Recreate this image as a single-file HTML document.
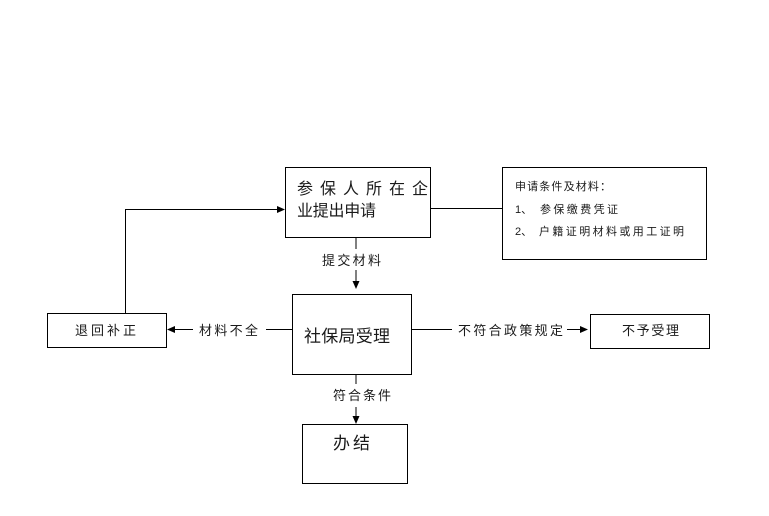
<!DOCTYPE html>
<html>
<head>
<meta charset="utf-8">
<style>
  html, body { margin: 0; padding: 0; background: #fff; }
  body { width: 769px; height: 516px; overflow: hidden; }
  svg { display: block; }
  text { font-family: "Liberation Sans", "Noto Sans CJK SC", "WenQuanYi Zen Hei", sans-serif; fill: #1a1a1a; }
</style>
</head>
<body>
<svg width="769" height="516" viewBox="0 0 769 516" xmlns="http://www.w3.org/2000/svg">
  <g fill="none" stroke="#000" stroke-width="1">
    <!-- Box 1 -->
    <rect x="285.5" y="167.5" width="145" height="70"/>
    <!-- Info box -->
    <rect x="502.5" y="167.5" width="204" height="92"/>
    <!-- connector box1 -> info -->
    <line x1="431" y1="208.5" x2="502" y2="208.5"/>
    <!-- left loop -->
    <line x1="125.5" y1="209" x2="125.5" y2="313"/>
    <line x1="125" y1="209.5" x2="279" y2="209.5"/>
    <!-- box1 -> box2 -->
    <line x1="356" y1="237.5" x2="356" y2="249"/>
    <line x1="356" y1="270" x2="356" y2="282"/>
    <!-- Box 2 -->
    <rect x="292.5" y="294.5" width="119" height="80"/>
    <!-- left connector -->
    <line x1="266" y1="329.5" x2="292" y2="329.5"/>
    <line x1="172" y1="329.5" x2="193" y2="329.5"/>
    <!-- 退回补正 box -->
    <rect x="47.5" y="313.5" width="119" height="34"/>
    <!-- right connector -->
    <line x1="412" y1="329.5" x2="452" y2="329.5"/>
    <line x1="567" y1="329.5" x2="582" y2="329.5"/>
    <!-- 不予受理 box -->
    <rect x="590.5" y="314.5" width="119" height="34"/>
    <!-- bottom connector -->
    <line x1="356" y1="375" x2="356" y2="384"/>
    <line x1="356" y1="407" x2="356" y2="418"/>
    <!-- 办结 box -->
    <rect x="302.5" y="424.5" width="105" height="59"/>
  </g>
  <g fill="#000" stroke="none">
    <polygon points="285,209.5 277,206 277,213"/>
    <polygon points="356,289 352.5,281 359.5,281"/>
    <polygon points="167,329.5 175,326 175,333"/>
    <polygon points="588,329.5 580,326 580,333"/>
    <polygon points="356,424 352.5,416 359.5,416"/>
  </g>

  <!-- Box 1 text -->
  <text x="297" y="194" font-size="16" textLength="131" lengthAdjust="spacing">参保人所在企</text>
  <text x="297" y="216" font-size="16" textLength="79" lengthAdjust="spacing">业提出申请</text>

  <!-- Info box text -->
  <text x="515" y="190" font-size="11" textLength="96" lengthAdjust="spacing">申请条件及材料：</text>
  <text x="515" y="213" font-size="11">1、</text>
  <text x="540" y="213" font-size="11" textLength="78" lengthAdjust="spacing">参保缴费凭证</text>
  <text x="515" y="235" font-size="11">2、</text>
  <text x="539" y="235" font-size="11" textLength="145" lengthAdjust="spacing">户籍证明材料或用工证明</text>

  <!-- connector labels -->
  <text x="322" y="265" font-size="13" textLength="59" lengthAdjust="spacing">提交材料</text>
  <text x="199" y="335" font-size="13" textLength="59" lengthAdjust="spacing">材料不全</text>
  <text x="458" y="335" font-size="13" textLength="105" lengthAdjust="spacing">不符合政策规定</text>
  <text x="333" y="400" font-size="13" textLength="58" lengthAdjust="spacing">符合条件</text>

  <!-- box texts -->
  <text x="304" y="342" font-size="17" textLength="86" lengthAdjust="spacing">社保局受理</text>
  <text x="75" y="335" font-size="13" textLength="61" lengthAdjust="spacing">退回补正</text>
  <text x="622" y="335" font-size="13" textLength="57" lengthAdjust="spacing">不予受理</text>
  <text x="333" y="449" font-size="17" textLength="37" lengthAdjust="spacing">办结</text>
</svg>
</body>
</html>
